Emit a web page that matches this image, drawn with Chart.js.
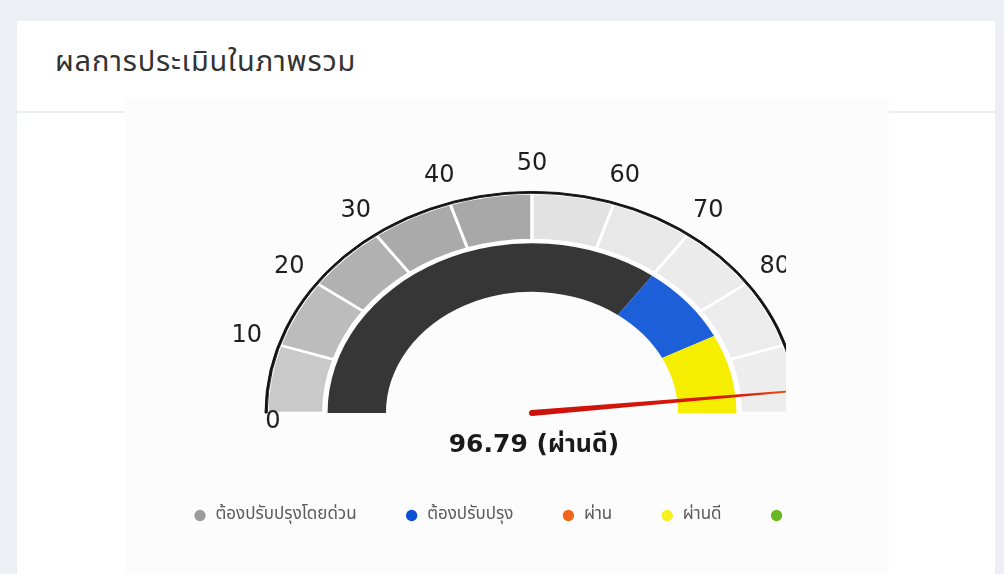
<!DOCTYPE html>
<html>
<head>
<meta charset="utf-8">
<script src="https://cdn.jsdelivr.net/npm/chart.js@4.4.1/dist/chart.umd.min.js"></script>
<style>
  body { margin: 0; width: 1004px; height: 574px; overflow: hidden; background: #eceff3;
         font-family: "Noto Sans Thai", "Noto Sans", sans-serif; }
  .card { position: absolute; left: 17px; top: 21px; width: 978px; height: 600px; background: #fff; }
  .title { position: absolute; left: 55px; top: 40px; margin: 0; font-size: 29px; font-weight: 400;
           letter-spacing: 0.8px; color: #333; }
  .divider { position: absolute; left: 17px; top: 111px; width: 978px; height: 2px; background: #eceef1; }
  .photo { position: absolute; left: 125px; top: 98px; width: 764px; height: 476px; background: #fcfcfc; }
  .clip { position: absolute; left: 125px; top: 60px; width: 661px; height: 514px; overflow: hidden; }
  .box { position: relative; width: 794px; height: 514px; }
</style>
</head>
<body>
<div class="card"></div>
<h2 class="title">ผลการประเมินในภาพรวม</h2>
<div class="divider"></div>
<div class="photo"></div>
<div class="clip"><div class="box"><canvas id="gauge"></canvas></div></div>

<script>
// gauge scale ticks and outer band
const tickLabels = ['0', '10', '20', '30', '40', '50', '60', '70', '80', '90', '100'];
const bandValues = [10, 10, 10, 10, 10, 10, 10, 10, 10, 10];
const bandColors = ['#c9c9c9', '#bcbcbc', '#b1b1b1', '#aaaaaa', '#a8a8a8',
                    '#e2e2e2', '#e8e8e8', '#ebebeb', '#ececec', '#ededed'];

// coloured result zones (inner band)
const zoneValues = [70, 15, 15];
const zoneColors = ['#363636', '#1d5fd9', '#f6ee00'];

// the score the needle points at
const score = 96.79;
const scoreText = 'ผ่านดี';

// legend
const legendLabels = ['ต้องปรับปรุงโดยด่วน', 'ต้องปรับปรุง', 'ผ่าน', 'ผ่านดี', 'ดีมาก'];
const legendColors = ['#9b9b9b', '#0b4fd6', '#f0651a', '#f7f01e', '#6bb623'];

const squash = 0.83;   // the printed gauge is photographed at a slant
const thaiFont = '"Noto Sans Thai", "Noto Sans", sans-serif';
const numFont = '"DejaVu Sans", "Noto Sans Thai", sans-serif';

const gaugePlugin = {
    id: 'gauge',
    beforeDatasetsDraw(chart) {
        const arc = chart.getDatasetMeta(0).data[0];
        const ctx = chart.ctx;
        ctx.save();
        ctx.translate(arc.x, arc.y);
        ctx.scale(1, squash);
        ctx.translate(-arc.x, -arc.y);
    },
    afterDatasetsDraw(chart) {
        const ctx = chart.ctx;
        ctx.restore();

        const rim = chart.getDatasetMeta(0).data[0];
        const cx = rim.x, cy = rim.y, R = rim.outerRadius;

        // tick labels, placed from the band arcs
        const band = chart.getDatasetMeta(1).data;
        ctx.save();
        ctx.font = '400 24px ' + numFont;
        ctx.fillStyle = '#1e1e1e';
        ctx.textAlign = 'center';
        ctx.textBaseline = 'middle';
        tickLabels.forEach((t, i) => {
            const a = i < band.length ? band[i].startAngle : band[band.length - 1].endAngle;
            let x, y;
            if (i === 0) {
                // first label sits under the end of the rim
                x = cx + R * Math.cos(a) + 8;
                y = cy + 9;
            } else {
                x = cx + (R + 33) * Math.cos(a);
                y = cy + (R * squash + 28) * Math.sin(a);
            }
            ctx.fillText(t, x, y);
        });
        ctx.restore();

        // needle
        const a = rim.startAngle + (rim.endAngle - rim.startAngle) * score / 100;
        const L = R + 8;
        const ex = cx + L * Math.cos(a), ey = cy + squash * L * Math.sin(a);
        const len = Math.hypot(ex - cx, ey - cy);
        const dx = (ex - cx) / len, dy = (ey - cy) / len;
        const nx = -dy, ny = dx;
        const grad = ctx.createLinearGradient(cx, cy, ex, ey);
        grad.addColorStop(0, '#cc120c');
        grad.addColorStop(0.75, '#d81a0a');
        grad.addColorStop(1, '#f2620f');
        ctx.save();
        ctx.fillStyle = grad;
        ctx.beginPath();
        ctx.moveTo(cx + nx * 3, cy + ny * 3);
        ctx.lineTo(ex + nx * 0.8, ey + ny * 0.8);
        ctx.lineTo(ex - nx * 0.8, ey - ny * 0.8);
        ctx.lineTo(cx - nx * 3, cy - ny * 3);
        ctx.closePath();
        ctx.fill();
        ctx.beginPath();
        ctx.arc(cx, cy, 3, 0, Math.PI * 2);
        ctx.fillStyle = '#cc120c';
        ctx.fill();

        // value under the needle
        ctx.font = '700 25px ' + numFont;
        ctx.fillStyle = '#1a1a1a';
        ctx.textAlign = 'center';
        ctx.textBaseline = 'middle';
        ctx.fillText(score.toFixed(2) + ' (' + scoreText + ')', cx + 2, cy + 32);
        ctx.restore();
    }
};

new Chart(document.getElementById('gauge'), {
    type: 'doughnut',
    data: {
        datasets: [
            { data: [100], backgroundColor: ['#111111'], borderWidth: 1, borderColor: '#111111', weight: 2.2 },
            { data: bandValues, backgroundColor: bandColors, borderWidth: 3, borderColor: '#ffffff', weight: 56.4 },
            { data: [100], backgroundColor: ['rgba(0,0,0,0)'], borderWidth: 0, weight: 4 },
            { data: zoneValues, backgroundColor: zoneColors, borderWidth: 0, weight: 58.4 }
        ]
    },
    options: {
        responsive: true,
        maintainAspectRatio: false,
        animation: false,
        events: [],
        rotation: -90,
        circumference: 180,
        radius: 267,
        cutout: '54.7%',
        layout: { padding: { left: 20, right: 0, top: 40, bottom: 40 } },
        plugins: {
            tooltip: { enabled: false },
            legend: {
                position: 'bottom',
                align: 'start',
                onClick: null,
                labels: {
                    usePointStyle: true,
                    boxWidth: 14,
                    boxHeight: 8,
                    padding: 48,
                    color: '#5a5a5a',
                    font: { family: thaiFont, size: 17 },
                    generateLabels: () => legendLabels.map((t, i) => ({
                        text: t,
                        fillStyle: legendColors[i],
                        strokeStyle: legendColors[i],
                        lineWidth: 0,
                        pointStyle: 'circle',
                        fontColor: '#5a5a5a',
                        hidden: false,
                        index: i
                    }))
                }
            }
        }
    },
    plugins: [gaugePlugin]
});
</script>
</body>
</html>
